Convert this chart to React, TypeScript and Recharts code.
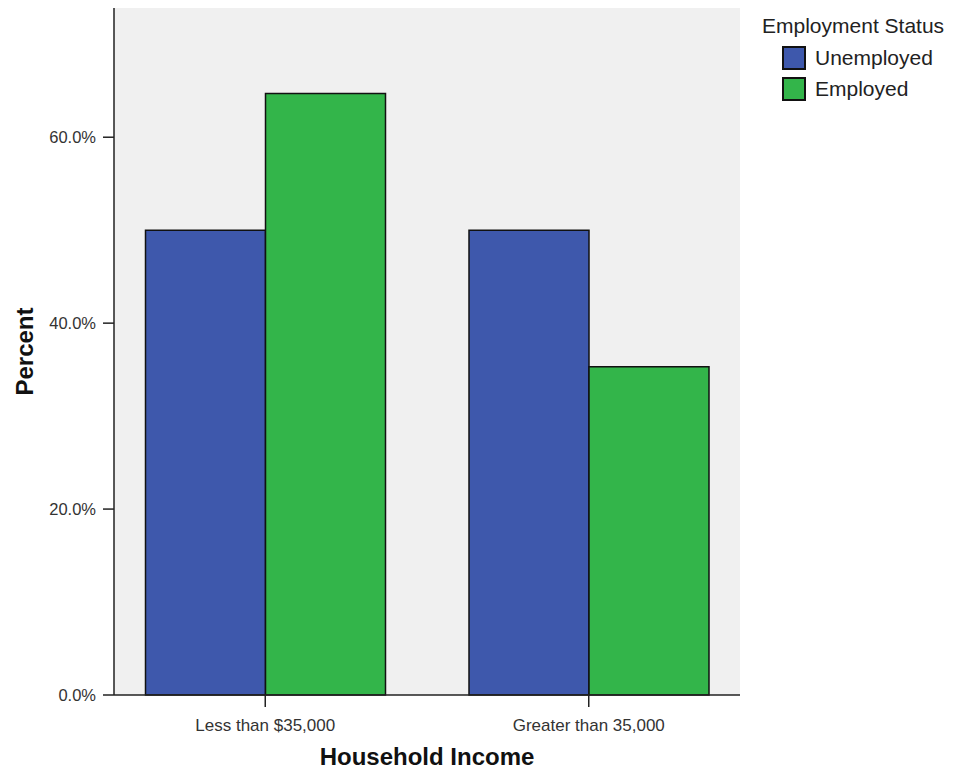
import { BarChart, Bar, XAxis, YAxis, CartesianGrid, Legend } from "recharts";

const CATEGORIES = ["Less than $35,000", "Greater than 35,000"];
const UNEMPLOYED = [50.0, 50.0];
const EMPLOYED = [64.7, 35.3];
const Y_TICKS = [0, 20, 40, 60];

const BLUE = "#3e58ac";
const GREEN = "#33b54a";
const PLOT_BG = "#f0f0f0";
const FONT = "'Liberation Sans', Arial, sans-serif";

const data = CATEGORIES.map((name, i) => ({
  name,
  Unemployed: UNEMPLOYED[i],
  Employed: EMPLOYED[i],
}));

const legendItems = [
  { label: "Unemployed", color: BLUE },
  { label: "Employed", color: GREEN },
];

function LegendBox() {
  return (
    <div style={{ fontFamily: FONT, color: "#222", fontSize: 21 }}>
      <div style={{ lineHeight: "26px", marginBottom: 3 }}>Employment Status</div>
      {legendItems.map((it) => (
        <div
          key={it.label}
          style={{ display: "flex", alignItems: "center", height: 31, paddingLeft: 20 }}
        >
          <span
            style={{
              display: "inline-block",
              width: 20,
              height: 20,
              background: it.color,
              border: "2px solid #111",
              marginRight: 9,
            }}
          />
          <span>{it.label}</span>
        </div>
      ))}
    </div>
  );
}

export default function App() {
  return (
    <div style={{ margin: "-8px 0 0 -8px", width: 953, height: 771, background: "#fff" }}>
      <BarChart
        width={953}
        height={771}
        data={data}
        margin={{ top: 8, right: 213, bottom: 36, left: 54 }}
        barGap={0}
        barSize={120}
      >
        <CartesianGrid fill={PLOT_BG} horizontal={false} vertical={false} />
        <XAxis
          dataKey="name"
          height={40}
          padding={{ left: -10.5, right: -10.5 }}
          stroke="#222"
          strokeWidth={1.5}
          tickSize={12}
          tickMargin={12}
          tick={{ fontSize: 17, fill: "#333", fontFamily: FONT }}
          label={{
            value: "Household Income",
            position: "insideBottom",
            offset: -30,
            style: { fontSize: 24, fontWeight: 700, fill: "#111", fontFamily: FONT },
          }}
        />
        <XAxis
          xAxisId="top"
          dataKey="name"
          orientation="top"
          height={0}
          tick={false}
          tickLine={false}
          stroke="#9a9a9a"
        />
        <YAxis
          width={60}
          domain={[0, 73.9]}
          ticks={Y_TICKS}
          stroke="#222"
          strokeWidth={1.5}
          tickSize={11}
          tickMargin={7}
          tickFormatter={(v: number) => `${v.toFixed(1)}%`}
          tick={{ fontSize: 16.5, fill: "#333", fontFamily: FONT }}
          label={{
            value: "Percent",
            angle: -90,
            position: "insideLeft",
            offset: -30,
            style: { fontSize: 24, fontWeight: 700, fill: "#111", fontFamily: FONT, textAnchor: "middle" },
          }}
        />
        <YAxis
          yAxisId="right"
          orientation="right"
          width={0}
          domain={[0, 73.9]}
          tick={false}
          tickLine={false}
          stroke="#9a9a9a"
        />
        <Legend
          layout="vertical"
          align="center"
          verticalAlign="middle"
          content={() => <LegendBox />}
          wrapperStyle={{ top: 13, left: 762, width: 190 }}
        />
        <Bar
          dataKey="Unemployed"
          fill={BLUE}
          stroke="#111"
          strokeWidth={1.5}
          isAnimationActive={false}
        />
        <Bar
          dataKey="Employed"
          fill={GREEN}
          stroke="#111"
          strokeWidth={1.5}
          isAnimationActive={false}
        />
      </BarChart>
    </div>
  );
}
